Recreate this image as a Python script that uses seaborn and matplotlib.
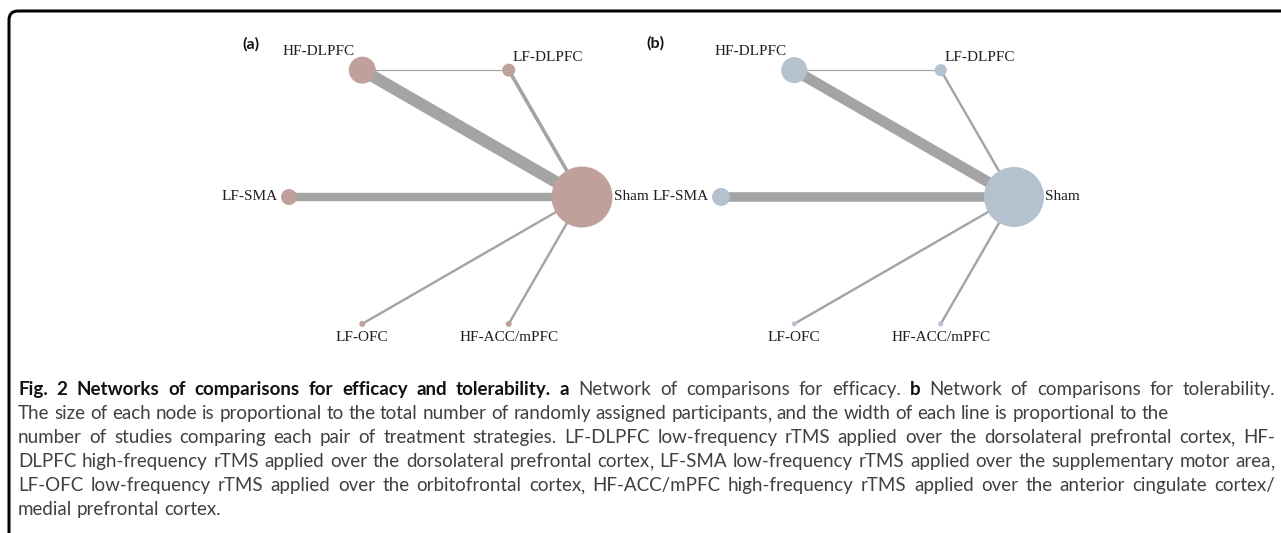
import matplotlib
matplotlib.use("Agg")
import numpy as np
import pandas as pd
import seaborn as sns
import matplotlib.pyplot as plt
from matplotlib.patches import FancyBboxPatch

# ---- network data -------------------------------------------------------
nodes = ["Sham", "LF-DLPFC", "HF-DLPFC", "LF-SMA", "LF-OFC", "HF-ACC/mPFC"]
participants_efficacy = [305, 65, 135, 80, 30, 30]
participants_tolerability = [300, 60, 130, 90, 25, 25]

edge_from = ["HF-DLPFC", "LF-SMA", "LF-DLPFC", "HF-DLPFC", "LF-OFC", "HF-ACC/mPFC"]
edge_to = ["Sham", "Sham", "Sham", "LF-DLPFC", "Sham", "Sham"]
studies_efficacy = [10, 7, 3, 1, 2, 2]
studies_tolerability = [9, 8, 2, 1, 2, 2]

panel_tags = ["(a)", "(b)"]

# ---- caption: each line is a list of (text, bold) runs, flag = justified ----
caption_lines = [
    ([("Fig. 2 Networks of comparisons for efficacy and tolerability.", True),
      ("a", True), ("Network of comparisons for efficacy.", False),
      ("b", True), ("Network of comparisons for tolerability.", False)], True),
    ([("The size of each node is proportional to the total number of randomly assigned "
       "participants, and the width of each line is proportional to the", False)], False),
    ([("number of studies comparing each pair of treatment strategies. LF-DLPFC "
       "low-frequency rTMS applied over the dorsolateral prefrontal cortex, HF-", False)], True),
    ([("DLPFC high-frequency rTMS applied over the dorsolateral prefrontal cortex, "
       "LF-SMA low-frequency rTMS applied over the supplementary motor area,", False)], True),
    ([("LF-OFC low-frequency rTMS applied over the orbitofrontal cortex, HF-ACC/mPFC "
       "high-frequency rTMS applied over the anterior cingulate cortex/", False)], True),
    ([("medial prefrontal cortex.", False)], False),
]

# ---- figure in pixel coordinates -----------------------------------------
W, H, DPI = 1281, 533, 100
PT = 72 / DPI                     # points per pixel
sns.set_theme(style="white")
plt.rcParams["font.family"] = ["Liberation Serif", "DejaVu Serif"]

fig = plt.figure(figsize=(W / DPI, H / DPI), dpi=DPI)
ax = fig.add_axes([0, 0, 1, 1])
ax.axis("off")

RING = 146.5                      # radius of the circular layout (px)
PX_PER_PARTICIPANT = 0.1          # node radius scale
PX_PER_STUDY = 1.2                # edge width scale
EDGE_COLOR = "#a4a4a4"


def draw_network(cx, cy, participants, studies, color):
    theta = np.deg2rad(np.arange(len(nodes)) * 60.0)
    df = pd.DataFrame({
        "node": nodes,
        "x": cx + RING * np.cos(theta),
        "y": cy - RING * np.sin(theta),
        "n": participants,
    })
    df["r"] = df["n"] * PX_PER_PARTICIPANT
    pos = df.set_index("node")

    for a, b, k in zip(edge_from, edge_to, studies):
        ax.plot([pos.loc[a, "x"], pos.loc[b, "x"]], [pos.loc[a, "y"], pos.loc[b, "y"]],
                color=EDGE_COLOR, lw=k * PX_PER_STUDY * PT,
                solid_capstyle="butt", zorder=2)

    sns.scatterplot(data=df, x="x", y="y", s=(2 * df["r"] * PT) ** 2,
                    color=color, edgecolor="none", linewidth=0,
                    legend=False, ax=ax, zorder=3)

    lab = dict(fontsize=11, color="#1e1e1e", family=["Liberation Serif", "DejaVu Serif"],
               va="center", zorder=4)
    for name, row in pos.iterrows():
        x, y, r = row["x"], row["y"], row["r"]
        if name == "Sham":
            ax.text(x + r + 1.5, y, name, ha="left", **lab)
        elif name == "LF-SMA":
            ax.text(x - r - 3, y, name, ha="right", **lab)
        elif name == "HF-DLPFC":
            ax.text(x - 8, y - 19, name, ha="right", **lab)
        elif name == "LF-DLPFC":
            ax.text(x + 4, y - 13, name, ha="left", **lab)
        else:
            ax.text(x, y + 14, name, ha="center", **lab)


draw_network(435.5, 197, participants_efficacy, studies_efficacy, "#c0a09b")
draw_network(867.5, 197, participants_tolerability, studies_tolerability, "#b4c1cf")

tag_kw = dict(fontsize=11.5, fontweight="bold", color="#111111",
              family=["Lato", "DejaVu Sans"], ha="center", va="center")
ax.text(251, 44, panel_tags[0], **tag_kw)
ax.text(655, 43, panel_tags[1], **tag_kw)

# ---- rounded frame (top and left edges visible) ---------------------------
ax.add_patch(FancyBboxPatch((9, 11), 1500, 700,
                            boxstyle="round,pad=0,rounding_size=9",
                            fill=False, ec="black", lw=3 * PT, zorder=5))

ax.set_xlim(0, W)
ax.set_ylim(H, 0)

# ---- caption with justified lines ----------------------------------------
renderer = fig.canvas.get_renderer()
CAP_FAMILY = ["Lato", "DejaVu Sans"]


def text_width(s, fs, bold):
    t = ax.text(0, 0, s, fontsize=fs, family=CAP_FAMILY,
                fontweight="bold" if bold else "normal")
    w = t.get_window_extent(renderer).width
    t.remove()
    return w


def split_punct(word):
    # trailing comma is drawn on its own so every word sits on one baseline
    if len(word) > 1 and word.endswith(","):
        return [word[:-1], ","]
    return [word]


def line_words(runs):
    words = []
    for text, bold in runs:
        words += [(w, bold) for w in text.split(" ") if w]
    return words


def word_width(word, fs, bold):
    return sum(text_width(p, fs, bold) for p in split_punct(word))


def natural_width(runs, fs):
    words = line_words(runs)
    sp = text_width("x x", fs, False) - text_width("xx", fs, False)
    return sum(word_width(w, fs, b) for w, b in words) + sp * (len(words) - 1)


LEFT, RIGHT = 18, 1275
fs = 12.0 * 1148 / natural_width(caption_lines[1][0], 12.0)
space = text_width("x x", fs, False) - text_width("xx", fs, False)

for i, (runs, justify) in enumerate(caption_lines):
    baseline = 395 + 24 * i
    words = line_words(runs)
    widths = [word_width(w, fs, b) for w, b in words]
    gap = (RIGHT - LEFT - sum(widths)) / (len(words) - 1) if justify else space
    x = LEFT
    for (w, b), wd in zip(words, widths):
        px = x
        for part in split_punct(w):
            ax.text(px, baseline, part, fontsize=fs, family=CAP_FAMILY,
                    fontweight="bold" if b else "normal",
                    color="#111111" if b else "#404040", ha="left", va="baseline")
            px += text_width(part, fs, b)
        x += wd + gap

fig.savefig("out.png", dpi=DPI)
